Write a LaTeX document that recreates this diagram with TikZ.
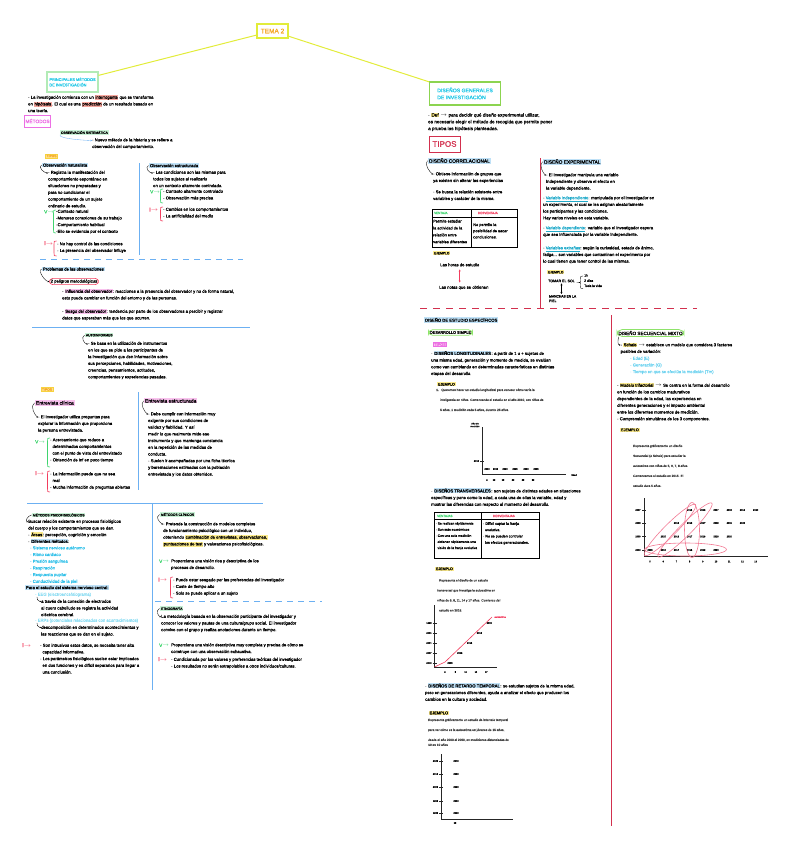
\documentclass[tikz,border=0pt]{standalone}
\usepackage{fontspec}
\setmainfont{Liberation Sans}[FakeBold=1]
\usetikzlibrary{positioning,arrows.meta}

\definecolor{temaline}{HTML}{E2EC3A}
\definecolor{temaorange}{HTML}{F5A623}
\definecolor{titcyan}{HTML}{22C7E6}
\definecolor{boxgreenA}{HTML}{B2EBB6}
\definecolor{boxgreenB}{HTML}{8CD450}
\definecolor{metpink}{HTML}{EC6FE4}
\definecolor{hlblue}{HTML}{BFE1F7}
\definecolor{hlgreen}{HTML}{C9F2D6}
\definecolor{hlpink}{HTML}{F9C2EE}
\definecolor{hlyellow}{HTML}{FCEB8C}
\definecolor{hlsalmon}{HTML}{F7A79E}
\definecolor{lineblue}{HTML}{6CB0F2}
\definecolor{linered}{HTML}{D2304E}
\definecolor{vgreen}{HTML}{3FD46E}
\definecolor{ired}{HTML}{F23D5E}
\definecolor{txtblue}{HTML}{2EBFE8}
\definecolor{varteal}{HTML}{1FA9C9}
\definecolor{tipfill}{HTML}{FFE08A}
\definecolor{tipborder}{HTML}{F7D23E}
\definecolor{ovalgreen}{HTML}{8EE36A}
\definecolor{ellpink}{HTML}{F27A94}

\newcommand{\ftxt}{\fontsize{4.2}{6.7}\selectfont}
\newcommand{\fcap}{\fontsize{3.3}{4}\selectfont}
\newcommand{\fprn}{\fontsize{3.1}{4}\selectfont}
\newcommand{\fdat}{\fontsize{2.3}{2.8}\selectfont}
\newcommand{\hlw}[2]{{\setlength{\fboxsep}{0.5pt}\colorbox{#1}{#2}}}
\newcommand{\varn}[1]{\textcolor{varteal}{\underline{#1}}}
\newcommand{\brk}[4]{\draw[#1, line width=0.6pt] ({#2+2.5},#3) .. controls (#2,#3) .. (#2,{#3+3}) -- (#2,{#4-3}) .. controls (#2,#4) .. ({#2+2.5},#4);}

\tikzset{
  txt/.style={anchor=north west, inner sep=0pt, align=left, font=\ftxt},
  hlbox/.style={anchor=north west, inner sep=0.8pt, fill=#1, font=\ftxt},
  tipbox/.style={draw=tipborder, fill=tipfill, text=temaorange, line width=0.5pt, inner sep=1pt, font=\fcap},
  sepsolid/.style={lineblue, line width=0.9pt},
  sepdash/.style={lineblue, line width=0.9pt, dash pattern=on 6pt off 5pt},
  flecha/.style={-{Stealth[length=1.5pt,width=1.5pt]}, line width=0.35pt},
  dbl/.style={{Stealth[length=2pt,width=2pt]}-{Stealth[length=2pt,width=2pt]}, line width=0.6pt},
  prnt/.style={anchor=north west, inner sep=0pt, font=\fprn, text=black!75},
  dat/.style={inner sep=0.3pt, font=\fdat},
  ejes/.style={line width=0.45pt, black!85},
  vlbl/.style={anchor=north west, inner sep=0pt, font=\fontsize{4.6}{5}\selectfont, text=vgreen},
  ilbl/.style={anchor=north west, inner sep=0pt, font=\fontsize{5.6}{6}\selectfont, text=ired},
  ovalbox/.style={draw=ovalgreen, line width=0.8pt, rounded corners=4pt, inner sep=1.4pt},
  cohort/.style={ellpink, line width=0.6pt}
}

\begin{document}
\begin{tikzpicture}[x=1pt,y=-1pt]
    \useasboundingbox (0,0) rectangle (792,848);

    % Títulos
    \node[draw=temaline, line width=1.3pt, text=temaorange, font=\fontsize{6.5}{7}\selectfont,
          minimum width=31pt, minimum height=14pt, inner sep=1pt] (tema) at (272.5,31) {TEMA 2};
    \node[draw=boxgreenA, line width=1.1pt, text=titcyan, font=\fontsize{3.9}{5.4}\selectfont, align=left,
          minimum width=51pt, minimum height=20pt, inner sep=1pt] (metodos) at (72.5,82) {PRINCIPALES MÉTODOS\\ DE INVESTIGACIÓN};
    \node[draw=boxgreenB, line width=1.1pt, text=titcyan, font=\fontsize{5.1}{7}\selectfont, align=left,
          minimum width=71pt, minimum height=23pt, inner sep=1pt] (disenos) at (465,93.5) {DISEÑOS GENERALES\\ DE INVESTIGACIÓN};
    \draw[temaline, line width=1pt] (tema) -- (metodos);
    \draw[temaline, line width=1pt] (tema) -- (disenos);

    % Columna izquierda
    \node[txt] (intro) at (28,95) {· La investigación comienza con un \hlw{hlsalmon}{interrogante} que se transforma\\ en \hlw{hlsalmon}{hipótesis}. El cual es una \hlw{hlsalmon}{predicción} de un resultado basado en\\ una teoría.};
    \node[draw=metpink, line width=0.8pt, text=metpink, font=\fontsize{4.8}{5}\selectfont,
          minimum width=21pt, minimum height=12pt, inner sep=1pt] (metlbl) at (37.5,121) {MÉTODOS};

    \node[hlbox=hlgreen, font=\fcap] (obssis) at (60,130) {OBSERVACIÓN SISTEMÁTICA};
    \node[txt] (obssistxt) at (92,138) {· Nuevo método de la historia y se refiere a\\ observación del comportamiento.};
    \draw[flecha, lineblue] (obssis.south west) .. controls +(-2,4) and +(-4,0) .. ([yshift=-2.5pt]obssistxt.north west);
    \node[tipbox] (tipos1) at (51.5,156) {TIPOS};

    % Observación naturalista
    \node[hlbox=hlblue] (obsnat) at (42,162.5) {Observación naturalista};
    \node[txt] (obsnattxt) at (48,170.5) {· Registra la manifestación del\\ comportamiento espontáneo en\\ situaciones no preparadas y\\ para no condicionar el\\ comportamiento de un sujeto\\ ordinario de estudio.};
    \draw[flecha] ([xshift=-0.5pt]obsnat.west) .. controls +(-4,2) and +(-4,0) .. ([yshift=-2.5pt]obsnattxt.north west);
    \node[vlbl] (vnat) at (44,210) {V$\to$};
    \node[txt] (vnatl) at (56,209.5) {-Contexto natural\\ -Menores conexiones de su trabajo\\ -Comportamiento habitual\\ -Ello se evidencia por el contexto};
    \brk{vgreen}{53.5}{210}{233}
    \node[ilbl] (inat) at (44,241) {I$\to$};
    \node[txt] (inatl) at (57,242) {· No hay control de las condiciones\\ · La presencia del observador influye};
    \brk{ired}{54}{241}{256}
    \draw[sepsolid] (139,163) -- (139,255);

    % Observación estructurada
    \node[hlbox=hlblue] (obsest) at (149,163) {Observación estructurada};
    \node[txt] (obsesttxt) at (153,170.5) {· Las condiciones son las mismas para\\ todos los sujetos al realizarlo\\ en un contexto altamente controlado.};
    \draw[flecha] ([xshift=-0.5pt]obsest.west) .. controls +(-4,2) and +(-4,0) .. ([yshift=-2.5pt]obsesttxt.north west);
    \node[vlbl] (vest) at (150,190) {V$\to$};
    \node[txt] (vestl) at (163,189.5) {· Contexto altamente controlado\\ · Observación más precisa};
    \brk{vgreen}{160.5}{189}{203}
    \node[ilbl] (iest) at (149,207.5) {I$\to$};
    \node[txt] (iestl) at (163,207.5) {· Cambios en los comportamientos\\ · La artificialidad del medio};
    \brk{ired}{160.5}{207}{221}
    \draw[sepdash] (40,259) -- (243,259);

    % Problemas
    \node[hlbox=hlblue] (probobs) at (42,266.5) {Problemas de las observaciones};
    \node[draw=ired, line width=0.6pt, rounded corners=3.5pt, inner sep=1.2pt, font=\ftxt] (peligros) at (74,281.5) {2 peligros metodológicos};
    \draw[flecha] ([xshift=-0.5pt]probobs.west) .. controls +(-4,2) and +(-4,0) .. (peligros.west);
    \node[txt] (influ) at (62,289) {· \hlw{hlpink}{Influencia del observador}: reacciones a la presencia del observador y no de forma natural,\\ esto puede cambiar en función del entorno y de las personas.};
    \node[txt] (sesgo) at (62,309) {· \hlw{hlpink}{Sesgo del observador}: tendencia por parte de los observadores a percibir y registrar\\ datos que esperaban más que los que ocurren.};
    \draw[sepsolid] (32,327) -- (250,327);

    % Autoinformes
    \node[hlbox=hlgreen, font=\fcap] (autoinf) at (85,333) {AUTOINFORMES};
    \node[txt] (autoinftxt) at (88,341.5) {· Se basa en la utilización de instrumentos\\ en los que se pide a los participantes de\\ la investigación que den información sobre\\ sus percepciones, habilidades, motivaciones,\\ creencias, pensamientos, actitudes,\\ comportamientos y experiencias pasadas.};
    \draw[flecha] ([xshift=-0.5pt]autoinf.west) .. controls +(-4,2) and +(-4,0) .. ([yshift=-2.5pt]autoinftxt.north west);
    \node[tipbox] (tipos2) at (47,389.5) {TIPOS};

    % Entrevista clínica
    \node[hlbox=hlpink, font=\fontsize{5}{6}\selectfont] (entcli) at (35,400) {Entrevista clínica};
    \node[txt] (entclitxt) at (38,415) {· El investigador utiliza preguntas para\\ explorar la información que proporciona\\ la persona entrevistada.};
    \draw[flecha] ([xshift=-0.5pt]entcli.west) .. controls +(-5,3) and +(-3,-2) .. ([yshift=-2.5pt]entclitxt.north west);
    \node[vlbl] (vcli) at (35,440) {V$\to$};
    \node[txt] (vclil) at (50,438) {· Acercamiento que reduce a\\ \ \ determinados comportamientos\\ \ \ con el punto de vista del entrevistado\\ · Obtención de inf en poco tiempo};
    \brk{vgreen}{47.5}{438}{467}
    \node[ilbl] (icli) at (35,471) {I$\to$};
    \node[txt] (iclil) at (50,472) {· La información puede que no sea\\ \ \ real\\ · Mucha información de preguntas abiertas};
    \brk{ired}{47.5}{471}{492}
    \draw[sepsolid] (138,392) -- (138,490);

    % Entrevista estructurada
    \node[hlbox=hlpink, font=\fontsize{5}{6}\selectfont] (entest) at (144,398) {Entrevista estructurada};
    \node[txt] (entesttxt) at (148,412) {· Debe cumplir con información muy\\ exigente por sus condiciones de\\ validez y fiabilidad. Y así\\ medir lo que realmente mide ese\\ instrumento y que mantenga constancia\\ en la repetición de las medidas de\\ conducta.\\ · Suelen ir acompañadas por una ficha técnica\\ y baremaciones estimadas con la población\\ entrevistada y los datos obtenidos.};
    \draw[flecha] ([xshift=-0.5pt]entest.west) .. controls +(-4,3) and +(-3,-2) .. ([yshift=-2.5pt]entesttxt.north west);
    \draw[sepsolid] (27,503) -- (263,503);
    \draw[sepsolid] (152,503) -- (152,690);

    % Métodos psicofisiológicos
    \node[hlbox=hlgreen, font=\fcap] (psifis) at (32,512.5) {MÉTODOS PSICOFISIOLÓGICOS};
    \node[txt] (psifistxt) at (28,519.5) {Buscar relación existente en procesos fisiológicos\\ del cuerpo y los comportamientos que se dan.\\ · \hlw{hlyellow}{Áreas}: percepción, cognición y emoción\\ · \hlw{hlblue}{Diferentes métodos}:};
    \draw[flecha] ([xshift=-0.5pt]psifis.west) .. controls +(-4,1) and +(-3,-1) .. ([yshift=-2.5pt]psifistxt.north west);
    \node[txt, text=txtblue] (psifislist) at (30,546) {· Sistema nervioso autónomo\\ · Ritmo cardiaco\\ · Presión sanguínea\\ · Respiración\\ · Respuesta pupilar\\ · Conductividad de la piel};
    \node[hlbox=hlblue] (snc) at (25,585) {Para el estudio del sistema nervioso central:};
    \node[txt, text=txtblue!55] (eeg) at (35,592.5) {· EEG (electroencefalograma)};
    \node[txt] (eegtxt) at (41,599.5) {a través de la conexión de electrodos\\ al cuero cabelludo se registra la actividad\\ eléctrica cerebral.};
    \draw[flecha] ([xshift=2pt]eeg.south west) .. controls +(0,3) .. ([yshift=-2.5pt]eegtxt.north west);
    \node[txt, text=txtblue!55] (erp) at (35,618.5) {· ERPs (potenciales relacionados con acontecimientos)};
    \node[txt] (erptxt) at (41,625.5) {descomposición en determinados acontecimientos y\\ las reacciones que se dan en el sujeto.};
    \draw[flecha] ([xshift=2pt]erp.south west) .. controls +(0,3) .. ([yshift=-2.5pt]erptxt.north west);
    \node[ilbl] (ipsi) at (22,643) {I$\to$};
    \node[txt] (ipsil) at (40,643.5) {· Son intrusivos estos datos, se necesita tener alta\\ \ \ capacidad informativa.\\ · Los parámetros fisiológicos suelen estar implicados\\ \ \ en dos funciones y es difícil separarlos para llegar a\\ \ \ una conclusión.};

    % Métodos clínicos
    \node[hlbox=hlgreen, font=\fcap] (clin) at (160,512) {MÉTODOS CLÍNICOS};
    \node[txt] (clintxt) at (163,522) {· Pretende la construcción de modelos completos\\ de funcionamiento psicológico con un individuo,\\ obteniendo \hlw{hlyellow}{combinación de entrevistas, observaciones,}\\ \hlw{hlyellow}{puntuaciones de test} y valoraciones psicofisiológicas.};
    \draw[flecha] ([xshift=-0.5pt]clin.west) .. controls +(-5,3) and +(-3,-2) .. ([yshift=-2.5pt]clintxt.north west);
    \node[vlbl] (vclin) at (159,559.5) {V$\to$};
    \node[txt] (vclinl) at (171,559) {Proporciona una visión rica y descriptiva de los\\ procesos de desarrollo.};
    \node[ilbl] (iclin) at (158,577.5) {I$\to$};
    \node[txt] (iclinl) at (173,578) {· Puede estar sesgado por las preferencias del investigador\\ · Coste de tiempo alto\\ · Solo se puede aplicar a un sujeto};
    \brk{ired}{170.5}{577}{598}
    \draw[sepdash] (155,601) -- (322,601);

    % Etnografía
    \node[hlbox=hlgreen, font=\fcap] (etno) at (160,606) {ETNOGRAFÍA};
    \node[txt] (etnotxt) at (161,614.5) {La metodología basada en la observación participante del investigador y\\ conocer los valores y pautas de una cultura/grupo social. El investigador\\ convive con el grupo y realiza anotaciones durante un tiempo.};
    \draw[flecha] ([xshift=-0.5pt]etno.west) .. controls +(-4,2) and +(-3,-1) .. ([yshift=-2.5pt]etnotxt.north west);
    \node[vlbl] (vetno) at (159,643.5) {V$\to$};
    \node[txt] (vetnol) at (171,643) {Proporciona una visión descriptiva muy completa y precisa de cómo se\\ construye con una observación exhaustiva.};
    \node[ilbl] (ietno) at (158,657) {I$\to$};
    \node[txt] (ietnol) at (171,657.5) {· Condicionada por los valores y preferencias teóricas del investigador\\ · Los resultados no serán extrapolables a otros individuos/culturas.};

    % Columna derecha
    \node[txt, font=\fontsize{4.6}{6.8}\selectfont] (def) at (428,112.5) {· \hlw{hlyellow}{Def} $\to$ para decidir qué diseño experimental utilizar,\\ es necesario elegir el método de recogida que permite poner\\ a prueba las hipótesis planteadas.};
    \node[draw=linered, line width=0.8pt, text=linered, font=\fontsize{8}{9}\selectfont,
          minimum width=31pt, minimum height=16pt, inner sep=1pt] (tipos3) at (444.5,144) {TIPOS};

    % Diseño correlacional
    \node[hlbox=hlblue, font=\fontsize{4.8}{5.5}\selectfont] (corr) at (428,157.5) {DISEÑO CORRELACIONAL};
    \node[txt] (corr1) at (433,172) {· Obtiene información de grupos que\\ ya existen sin alterar las experiencias};
    \node[txt] (corr2) at (433,190) {· Se busca la relación existente entre\\ variables y carácter de la misma.};
    \draw[flecha] ([xshift=-0.5pt]corr.west) .. controls +(-4,3) and +(-3,-2) .. ([yshift=-2.5pt]corr1.north west);
    \draw[line width=0.8pt] (432,209) rectangle (517,247);
    \draw[line width=0.8pt] (432,217) -- (517,217) (471,209) -- (471,247);
    \node[anchor=west, inner sep=0pt, font=\fontsize{3}{3.5}\selectfont, text=vgreen] (vent1) at (434,213) {VENTAJA};
    \node[anchor=west, inner sep=0pt, font=\fontsize{3}{3.5}\selectfont, text=ired] (desv1) at (478,213) {DESVENTAJA};
    \node[txt, font=\fontsize{3.9}{6.9}\selectfont] (vent1txt) at (433,219.5) {Permite estudiar\\ la actividad de la\\ relación entre\\ variables diferentes};
    \node[txt, font=\fontsize{3.9}{6.2}\selectfont] (desv1txt) at (473,223) {No permite la\\ posibilidad de sacar\\ conclusiones.};
    \node[hlbox=hlyellow, font=\fcap] (ej1) at (433,251) {EJEMPLO};
    \node[txt] (horas) at (440,263) {Las horas de estudio};
    \node[txt] (notas) at (439,285.5) {Las notas que se obtienen};
    \draw[dbl, ired] ([yshift=-3pt]horas.south) -- ([yshift=3pt]horas.south |- notas.north);

    % Diseño experimental
    \draw[linered, line width=0.8pt] (540.5,158) -- (540.5,308);
    \node[hlbox=hlblue, font=\fontsize{4.8}{5.5}\selectfont] (exper) at (543,158.5) {DISEÑO EXPERIMENTAL};
    \node[txt] (exp1) at (546,173) {· El investigador manipula una variable\\ independiente y observa el efecto en\\ la variable dependiente.};
    \draw[flecha] ([xshift=-0.5pt]exper.west) .. controls +(-4,3) and +(-3,-2) .. ([yshift=-2.5pt]exp1.north west);
    \node[txt] (exp2) at (543,196) {· \varn{Variable independiente}: manipulada por el investigador en\\ un experimento, el cual se les asignan aleatoriamente\\ los participantes y las condiciones.\\ Hay varios niveles en esta variable.};
    \node[txt] (exp3) at (543,226) {· \varn{Variable dependiente}: variable que el investigador espera\\ que sea influenciada por la variable independiente.};
    \node[txt] (exp4) at (543,246) {· \varn{Variables extrañas}: según la curiosidad, estado de ánimo,\\ fatiga... son variables que contaminan el experimento por\\ lo cual tienen que tener control de las mismas.};
    \node[hlbox=hlyellow, font=\fcap] (ej2) at (547,270) {EJEMPLO};
    \node[txt, font=\fontsize{3.6}{4}\selectfont] (sol) at (548,279.5) {TOMAR EL SOL};
    \node[txt, font=\fontsize{3.3}{5.2}\selectfont] (tiempos) at (584,274) {1h\\ 2 días\\ Toda la vida};
    \draw[line width=0.4pt] (583,276) .. controls (580.5,276) .. (580.5,279) -- (580.5,281)
        .. controls (580.5,282.5) .. (578.5,282.5) .. controls (580.5,282.5) .. (580.5,284)
        -- (580.5,286) .. controls (580.5,288.5) .. (583,288.5);
    \node[txt, font=\fontsize{3.3}{4.5}\selectfont] (manchas) at (549,295) {MANCHAS EN LA\\ PIEL};
    \draw[dbl, line width=0.4pt] ([yshift=-1pt]sol.south) -- ([yshift=1pt]sol.south |- manchas.north);

    \draw[linered, line width=0.9pt, dash pattern=on 7pt off 6pt] (420,308) -- (697,308);
    \draw[linered, line width=0.8pt] (611.5,315) -- (611.5,826);

    % Diseños específicos
    \node[hlbox=hlblue, font=\fontsize{4.2}{5}\selectfont] (especif) at (424,317) {DISEÑO DE ESTUDIO ESPECÍFICOS};
    \node[ovalbox, font=\fontsize{3.8}{4.5}\selectfont] (dessimple) at (450.5,332.5) {DESARROLLO SIMPLE};
    \node[fill=hlpink, draw=metpink, line width=0.5pt, text=metpink, font=\fontsize{3.8}{4.5}\selectfont, inner sep=0.8pt] (tipos4) at (440,344.5) {TIPOS};
    \node[txt] (longit) at (431,350.5) {· \hlw{hlblue}{DISEÑOS LONGITUDINALES}: a partir de 1 o + sujetos de\\ una misma edad, generación y momento de medida, se evalúan\\ como van cambiando en determinadas características en distintas\\ etapas del desarrollo.};
    \node[hlbox=hlyellow, font=\fontsize{3.6}{4}\selectfont] (ej3) at (437,382) {EJEMPLO};
    \node[prnt] (ej3a) at (436,388.5) {1.\ \ \ Queremos hacer un estudio longitudinal para conocer cómo varía la};
    \node[prnt] (ej3b) at (440,398.5) {inteligencia en niños. Comenzando el estudio en el año 2010, con niños de};
    \node[prnt] (ej3c) at (440,408.5) {5 años, 1 medición cada 5 años, durante 25 años.};
    % Gráfico longitudinal
    \draw[ejes] (482,427) -- (482,474) -- (566,474);
    \node[dat, align=center] (lgy) at (475,425) {Año de\\ medición};
    \draw[ejes] (480,461) -- (484,461);
    \node[dat, anchor=east] (lgt) at (479.5,461) {2010};
    \node[dat] (lgx) at (574,475) {Edad};
    \foreach \x/\e in {487/5,494/10,503/15,513/20,523/25,533/30}
        \node[dat] (lge\e) at (\x,480) {\e};
    \foreach \x/\a in {487/2010,495.5/2015,505/2020,515/2025,526/2030,536/2035}
        \node[dat] (lga\a) at (\x,469) {\a};

    % Diseños transversales
    \node[txt] (transv) at (431,488) {· \hlw{hlblue}{DISEÑOS TRANSVERSALES}: son sujetos de distintas edades en situaciones\\ específicas y pone como la edad, a cada una de ellas la variable, edad y\\ mostrar las diferencias con respecto al momento del desarrollo.};
    \draw[line width=0.8pt] (434,512) rectangle (539,558);
    \draw[line width=0.8pt] (434,519.5) -- (539,519.5) (481,512) -- (481,558);
    \node[anchor=west, inner sep=0pt, font=\fontsize{3}{3.5}\selectfont, text=vgreen] (vent2) at (437,516) {VENTAJAS};
    \node[anchor=west, inner sep=0pt, font=\fontsize{3}{3.5}\selectfont, text=ired] (desv2) at (493,516) {DESVENTAJAS};
    \node[txt, font=\fontsize{3.3}{6.1}\selectfont] (vent2txt) at (435.5,522) {· Se realizan rápidamente\\ · Son más económicos\\ · Con una sola medición\\ \ \ obtienen rápidamente una\\ \ \ visión de la franja evolutiva};
    \node[txt, font=\fontsize{3.6}{6.3}\selectfont] (desv2txt) at (483,522) {· Difícil captar la franja\\ \ \ evolutiva.\\ · No se pueden controlar\\ \ \ los efectos generacionales.};
    \node[hlbox=hlyellow, font=\fontsize{3.6}{4}\selectfont] (ej4) at (435,566.5) {EJEMPLO};
    \node[prnt] (ej4a) at (439,579) {Representa el diseño de un estudio};
    \node[prnt] (ej4b) at (437,589) {transversal que investiga la autoestima en};
    \node[prnt] (ej4c) at (437,599) {niños de 5, 8, 11, 14 y 17 años. Comienzo del};
    \node[prnt] (ej4d) at (439,609) {estudio en 2015.};
    % Gráfico transversal
    \draw[ejes] (434.5,605) -- (434.5,667) -- (497,667);
    \foreach \i/\y/\n in {0/663/2010,1/653/2007,2/643/2004,3/633/2001,4/623/1998} {
        \draw[ejes] (432.5,\y) -- (436.5,\y);
        \node[dat, anchor=east] (tvy\i) at (432,\y) {\n};
        \node[dat] (tvp\i) at ({450+\i*9.8},\y) {2015};
    }
    \foreach \i/\e in {0/5,1/8,2/11,3/14,4/17}
        \node[dat] (tvx\i) at ({445+\i*10.3},672) {\e};
    \draw[ired, line width=0.6pt] (434.5,667) -- (445,662) -- (492,617);
    \node[dat, text=ired, anchor=west] (tvlbl) at (494,617) {autoestima};

    % Retardo temporal
    \node[txt] (retardo) at (425,683) {· \hlw{hlblue}{DISEÑOS DE RETARDO TEMPORAL}: se estudian sujetos de la misma edad,\\ pero en generaciones diferentes, ayuda a analizar el efecto que producen los\\ cambios en la cultura y sociedad.};
    \node[hlbox=hlyellow, font=\fontsize{4}{4.5}\selectfont] (ej5) at (428.5,710.5) {EJEMPLO};
    \node[prnt] (ej5a) at (428,718.5) {Representa gráficamente un estudio de intervalo temporal};
    \node[prnt] (ej5b) at (428,728.5) {para ver cómo es la autoestima en jóvenes de 15 años,};
    \node[prnt] (ej5c) at (428,738.5) {desde el año 2000 al 2050, en mediciones distanciadas de};
    \node[prnt] (ej5d) at (428,743.5) {10 en 10 años};
    % Gráfico retardo temporal
    \draw[ejes] (441,754) -- (441,819) -- (513,819);
    \foreach \i/\y/\n/\m in {0/761/2025/2040,1/774/2015/2030,2/787/2005/2020,3/801/1995/2010,4/813/1985/2000} {
        \draw[ejes] (439,\y) -- (443,\y);
        \node[dat, anchor=east] (rty\i) at (438.5,\y) {\n};
        \node[dat] (rtp\i) at (456,\y) {\m};
    }
    \node[dat] (rtx) at (455,823) {15};

    % Diseño secuencial mixto
    \node[ovalbox, rounded corners=5pt, font=\fontsize{4.6}{5}\selectfont] (secmix) at (650.5,333) {DISEÑO SECUENCIAL MIXTO};
    \node[txt] (schaie) at (620.5,342.5) {· \hlw{hlyellow}{Schaie} $\to$ establece un modelo que considera 3 factores\\ posibles de variación:};
    \draw[flecha] ([xshift=2pt]secmix.south west) .. controls +(-1,4) and +(-3,0) .. ([yshift=-2.5pt]schaie.north west);
    \node[txt, text=txtblue!70] (factores) at (630,356.5) {· Edad (E)\\ · Generación (G)\\ · Tiempo en que se efectúa la medición (Tm)};
    \node[txt] (trifac) at (617,383) {· \hlw{hlyellow}{Modelo trifactorial} $\to$ Se centra en la forma del desarrollo\\ en función de los cambios madurativos\\ dependientes de la edad, las experiencias en\\ diferentes generaciones y el impacto ambiental\\ entre los diferentes momentos de medición.\\ · Comprensión simultánea de los 3 componentes.};
    \node[hlbox=hlyellow, font=\fontsize{3.8}{4.5}\selectfont] (ej6) at (620,427.5) {EJEMPLO};
    \node[prnt] (ej6a) at (633,444.5) {Representa gráficamente un diseño};
    \node[prnt] (ej6b) at (633,454.5) {Secuencial (o Schaie) para estudiar la};
    \node[prnt] (ej6c) at (633,464.5) {autoestima con niños de 5, 6, 7, 8 años.};
    \node[prnt] (ej6d) at (633,474.5) {Comenzamos el estudio en 2015. El};
    \node[prnt] (ej6e) at (633,484.5) {estudio dura 5 años.};
    % Gráfico secuencial
    \draw[ejes] (644,498) -- (644,556.5) -- (768,556.5);
    \foreach \e in {5,...,13}
        \node[dat] (sqx\e) at ({650+(\e-5)*13.2},561.5) {\e};
    \foreach \r/\yy/\n in {0/550/2010,1/536.5/2009,2/523/2008,3/510/2007} {
        \draw[ejes] (642,\yy) -- (646,\yy);
        \node[dat, anchor=east] (sqy\r) at (641,\yy) {\n};
        \foreach \k in {0,...,5} {
            \pgfmathtruncatemacro{\anio}{2015+\k}
            \node[dat] (sq\r\k) at ({650+(\r+\k)*13.2},\yy) {\anio};
        }
    }
    \draw[cohort] (685.5,549.5) ellipse (41 and 6.5);
    \draw[cohort] (692,530) ellipse (7.5 and 27.5);
    \draw[cohort, rotate around={45:(670,530)}] (670,530) ellipse (36 and 6);
    \draw[cohort, rotate around={45:(685,530)}] (685,530) ellipse (38 and 6);
\end{tikzpicture}
\end{document}
